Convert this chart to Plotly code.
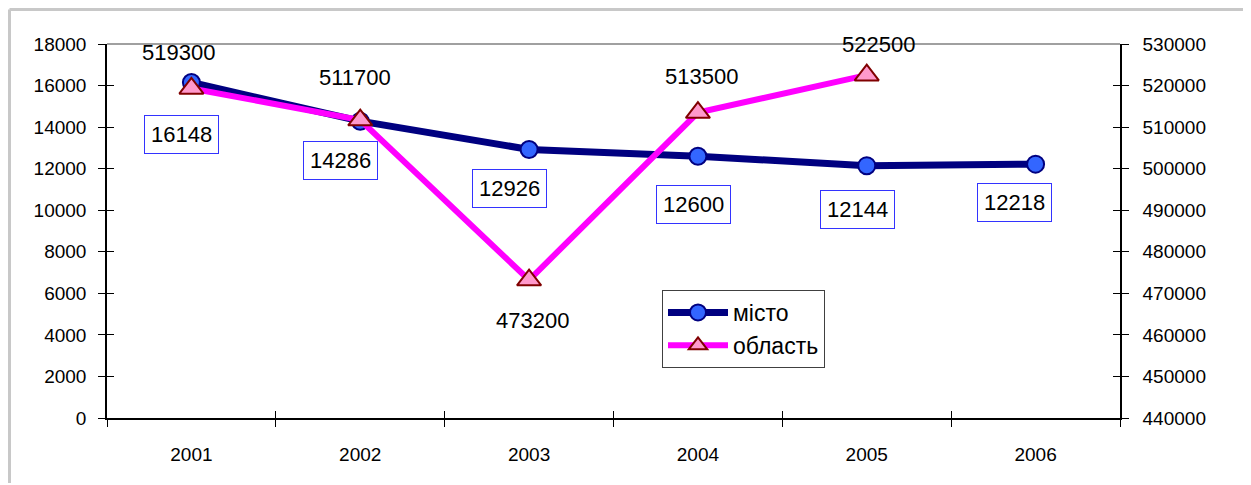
import plotly.graph_objects as go

years = ["2001", "2002", "2003", "2004", "2005", "2006"]
city = [16148, 14286, 12926, 12600, 12144, 12218]
region_years = ["2001", "2002", "2003", "2004", "2005"]
region = [519300, 511700, 473200, 513500, 522500]

# label offsets (pixels) from each point
city_dx = [-10, -20, -20, -4, -9, -21]
city_dy = [-52, -39, -39, -48, -44, -38]
region_dx = [-13, -5, 3, 4, 12]
region_dy = [36, 43, -40, 36, 31]

FONT = "Arial"
OFF = 8  # page body margin
W, H = 1251 - OFF, 485 - OFF
L, R, T, B = 107 - OFF, 131, 44 - OFF, 67
PW, PH = W - L - R, H - T - B


def px_x(px):
    return (px - OFF - L) / PW


def px_y(py):
    return (H - B - (py - OFF)) / PH


xi = list(range(len(years)))
xr = [years.index(y) for y in region_years]
bounds = [i - 0.5 for i in range(len(years) + 1)]

fig = go.Figure()
fig.add_trace(go.Scatter(
    x=xi, y=city, name="місто", mode="lines+markers",
    line=dict(color="#000080", width=7),
    marker=dict(symbol="circle", size=17, color="#3366FF",
                line=dict(color="#000080", width=2)),
    yaxis="y", xaxis="x"))
fig.add_trace(go.Scatter(
    x=xr, y=region, name="область", mode="lines+markers",
    line=dict(color="#FF00FF", width=6),
    marker=dict(symbol="triangle-up", size=21, color="#FF99CC",
                line=dict(color="#800000", width=2)),
    yaxis="y2", xaxis="x"))
# empty helper traces so the tick-overlay axes get drawn
fig.add_trace(go.Scatter(x=[], y=[], xaxis="x", yaxis="y3", showlegend=False, hoverinfo="skip"))
fig.add_trace(go.Scatter(x=[], y=[], xaxis="x", yaxis="y4", showlegend=False, hoverinfo="skip"))
fig.add_trace(go.Scatter(x=[], y=[], xaxis="x2", yaxis="y", showlegend=False, hoverinfo="skip"))

for x, v, dx, dy in zip(xi, city, city_dx, city_dy):
    fig.add_annotation(x=x, y=v, xref="x", yref="y", text=str(v), showarrow=False,
                       xshift=dx, yshift=dy, font=dict(size=22, color="black"),
                       bordercolor="#3333FF", borderwidth=1, borderpad=6, bgcolor="white")
for x, v, dx, dy in zip(xr, region, region_dx, region_dy):
    fig.add_annotation(x=x, y=v, xref="x", yref="y2", text=str(v), showarrow=False,
                       xshift=dx, yshift=dy, font=dict(size=22, color="black"))

fig.add_shape(type="line", xref="paper", yref="paper", x0=0, x1=1, y0=1, y1=1,
              line=dict(color="#808080", width=1.5))
# outer chart frame (left and top edges), kept inside the drawable page area
fig.add_shape(type="line", xref="paper", yref="paper",
              x0=px_x(9.5), x1=px_x(9.5), y0=px_y(483), y1=px_y(9.5),
              line=dict(color="#C8C8C8", width=3))
fig.add_shape(type="line", xref="paper", yref="paper",
              x0=px_x(9.5), x1=px_x(1251), y0=px_y(9.5), y1=px_y(9.5),
              line=dict(color="#C8C8C8", width=3))

tickfont = dict(size=19, color="black")
TL = 7
fig.update_layout(
    width=W, height=H,
    margin=dict(l=L, r=R, t=T, b=B, pad=0),
    plot_bgcolor="white", paper_bgcolor="white",
    font=dict(family=FONT, color="black"),
    showlegend=True,
    legend=dict(x=px_x(662), y=px_y(290), xanchor="left", yanchor="top",
                bordercolor="#404040", borderwidth=1, bgcolor="white",
                font=dict(size=23, color="black"),
                itemwidth=60, tracegroupgap=0),
    xaxis=dict(range=[-0.5, len(years) - 0.5], showgrid=False,
               tickvals=xi, ticktext=years, ticks="",
               showline=True, linecolor="black", linewidth=1.5,
               tickfont=tickfont, ticklabelstandoff=18,
               minor=dict(tickvals=bounds, ticks="outside", ticklen=TL,
                          tickcolor="black", tickwidth=1, showgrid=False),
               zeroline=False),
    xaxis2=dict(overlaying="x", anchor="y", range=[-0.5, len(years) - 0.5],
                tickvals=bounds, ticks="inside", ticklen=TL, tickcolor="black",
                tickwidth=1, showticklabels=False, showgrid=False,
                showline=False, zeroline=False),
    yaxis=dict(range=[0, 18000], dtick=2000, tick0=0, showgrid=False,
               showline=True, linecolor="black", linewidth=1.5,
               ticks="outside", ticklen=TL, tickcolor="black", tickwidth=1,
               tickfont=tickfont, ticklabelstandoff=8, zeroline=False,
               tickformat="d"),
    yaxis2=dict(overlaying="y", side="right", anchor="x",
                range=[440000, 530000], dtick=10000, tick0=440000, showgrid=False,
                showline=True, linecolor="black", linewidth=1.5,
                ticks="outside", ticklen=TL, tickcolor="black", tickwidth=1,
                tickfont=tickfont, ticklabelstandoff=10, zeroline=False,
                tickformat="d"),
    yaxis3=dict(overlaying="y", anchor="x", range=[0, 18000], dtick=2000, tick0=0,
                ticks="inside", ticklen=TL, tickcolor="black", tickwidth=1,
                showticklabels=False, showgrid=False, showline=False, zeroline=False),
    yaxis4=dict(overlaying="y", side="right", anchor="x", range=[440000, 530000],
                dtick=10000, tick0=440000, ticks="inside", ticklen=TL,
                tickcolor="black", tickwidth=1,
                showticklabels=False, showgrid=False, showline=False, zeroline=False),
)

fig.write_html("out.html")
